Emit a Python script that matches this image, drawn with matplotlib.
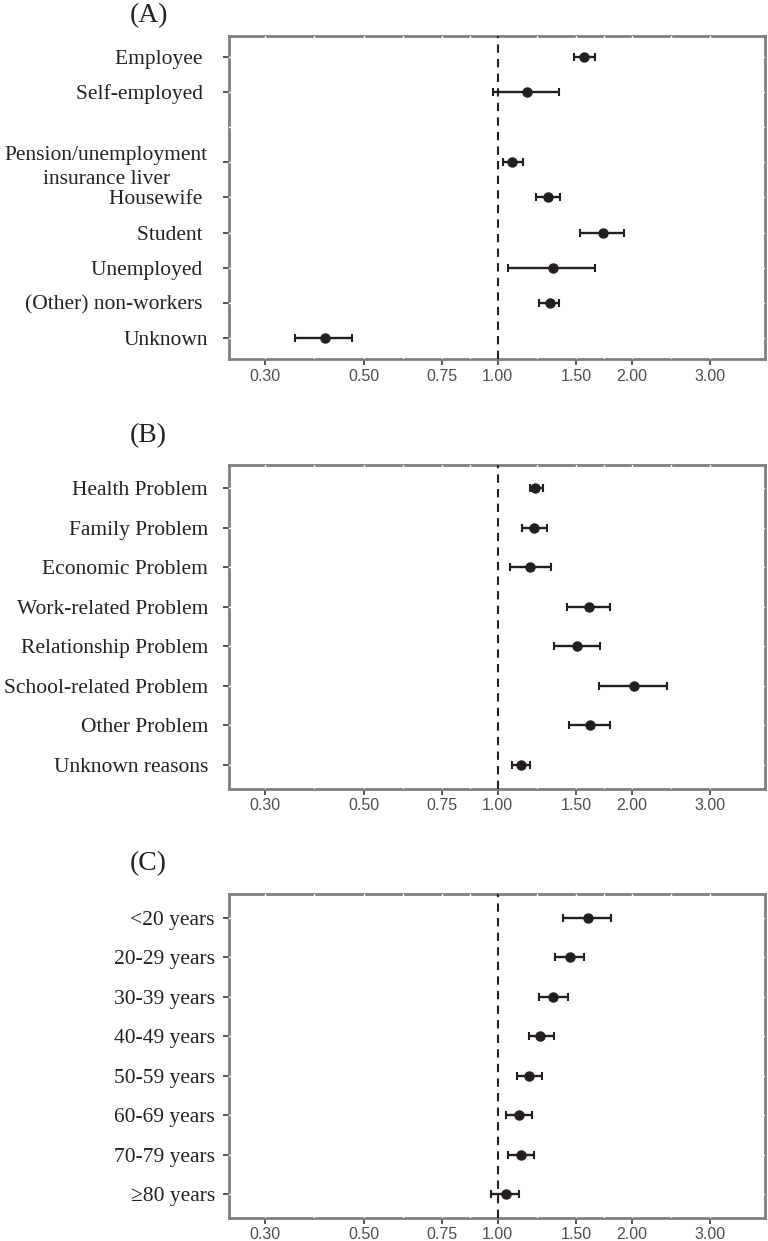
import matplotlib
matplotlib.use("Agg")
import matplotlib.pyplot as plt
import numpy as np

# (A) occupation -- "" is the empty slot left in the original layout
occ_labels = ["Employee ", "Self-employed ", "",
              "Pension/unemployment\ninsurance liver", "Housewife ", "Student ",
              "Unemployed ", "(Other) non-workers ", "Unknown"]
occ_or = [1.563, 1.166, np.nan, 1.077, 1.295, 1.724, 1.328, 1.308, 0.410]
occ_lo = [1.484, 0.978, np.nan, 1.027, 1.217, 1.533, 1.057, 1.236, 0.350]
occ_hi = [1.657, 1.376, np.nan, 1.138, 1.378, 1.920, 1.651, 1.376, 0.471]

# (B) motive
mot_labels = ["Health Problem", "Family Problem", "Economic Problem",
              "Work-related Problem", "Relationship Problem",
              "School-related Problem", "Other Problem", "Unknown reasons"]
mot_or = [1.212, 1.206, 1.185, 1.606, 1.507, 2.020, 1.615, 1.129]
mot_lo = [1.182, 1.137, 1.067, 1.430, 1.337, 1.688, 1.447, 1.078]
mot_hi = [1.262, 1.290, 1.320, 1.790, 1.697, 2.396, 1.790, 1.185]

# (C) age group
age_labels = ["<20 years", "20-29 years", "30-39 years", "40-49 years",
              "50-59 years", "60-69 years", "70-79 years", "\u226580 years"]
age_or = [1.593, 1.454, 1.333, 1.246, 1.175, 1.114, 1.126, 1.046]
age_lo = [1.404, 1.348, 1.236, 1.178, 1.106, 1.046, 1.057, 0.967]
age_hi = [1.795, 1.560, 1.435, 1.337, 1.259, 1.197, 1.206, 1.117]

x_ticks = [0.30, 0.50, 0.75, 1.00, 1.50, 2.00, 3.00]

SERIF = "Liberation Serif"
SANS = "Liberation Sans"
FRAME = "#7f7f7f"
INK = "#231f20"


def forest(ax, labels, est, lo, hi, pad):
    est, lo, hi = map(np.asarray, (est, lo, hi))
    y = np.arange(len(labels))
    ok = ~np.isnan(est)

    ax.set_xscale("log")
    ax.set_xlim(0.249, 3.99)
    ax.set_ylim(len(labels) - 0.4, -0.6)

    # white grid drawn over the frame, like the ggplot export
    lx = np.log(x_ticks)
    minors = np.exp((lx[:-1] + lx[1:]) / 2)
    for xv in list(x_ticks) + list(minors):
        ax.axvline(xv, color="white", lw=1.0, zorder=3)
    for yv in y:
        ax.axhline(yv, color="white", lw=1.0, zorder=3)

    ax.axvline(1.0, color=INK, lw=1.5, ls=(0, (4, 3)), zorder=4)
    ax.errorbar(est[ok], y[ok], xerr=[est[ok] - lo[ok], hi[ok] - est[ok]],
                fmt="o", color=INK, ms=6.5, lw=1.7, capsize=2.8, capthick=1.5,
                zorder=5)

    ax.set_xticks(x_ticks)
    ax.set_xticklabels([f"{v:.2f}" for v in x_ticks], family=SANS,
                       fontsize=11.5, color="#4d4d4d")
    ax.xaxis.set_minor_locator(matplotlib.ticker.NullLocator())
    ax.set_yticks(y[ok])
    ax.set_yticklabels([l for l, k in zip(labels, ok) if k], family=SERIF,
                       fontsize=15.5, color="#222222", linespacing=1.35,
                       multialignment="center")
    ax.tick_params(axis="x", length=4, width=1.4, color="#555555", pad=3)
    ax.tick_params(axis="y", length=4, width=1.4, color="#555555", pad=pad)
    for s in ax.spines.values():
        s.set_color(FRAME)
        s.set_linewidth(2.0)


fig = plt.figure(figsize=(7.68, 12.41), dpi=100)
boxes = [(0.2978, 0.7107, 0.6987, 0.2605),
         (0.2978, 0.3645, 0.6987, 0.2611),
         (0.2978, 0.0188, 0.6987, 0.2608)]
panels = [("(A)", occ_labels, occ_or, occ_lo, occ_hi, 11),
          ("(B)", mot_labels, mot_or, mot_lo, mot_hi, 11),
          ("(C)", age_labels, age_or, age_lo, age_hi, 6)]
letter_y = [16, 436, 864]

for box, (tag, labs, e, l, h, pad), ly in zip(boxes, panels, letter_y):
    ax = fig.add_axes(box)
    forest(ax, labs, e, l, h, pad)
    fig.text(130 / 768, 1 - ly / 1241, tag, family=SERIF, fontsize=20,
             ha="left", va="center", color="#222222")

fig.savefig("out.png", dpi=100)
